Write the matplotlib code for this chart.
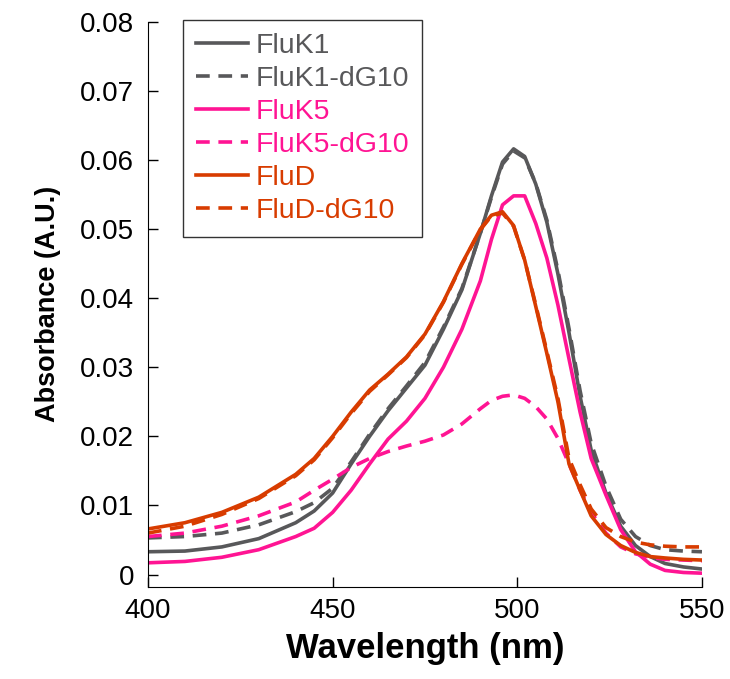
import numpy as np
import matplotlib
matplotlib.use('Agg')
import matplotlib.pyplot as plt

plt.rcParams['font.family'] = ['Liberation Sans', 'DejaVu Sans']

wavelength = [400, 410, 420, 430, 440, 445, 450, 455, 460, 465, 470, 475, 480, 485, 490, 493,
              496, 499, 502, 505, 508, 511, 514, 517, 520, 524, 528, 532, 536, 540, 545, 550]

fluk1 = [0.0033, 0.0034, 0.0040, 0.0052, 0.0075, 0.0092, 0.0118, 0.0160, 0.0200, 0.0237, 0.0270,
         0.0303, 0.0355, 0.0412, 0.0494, 0.0548, 0.0597, 0.0616, 0.0605, 0.0565, 0.0510, 0.0435,
         0.0350, 0.0258, 0.0180, 0.0118, 0.0070, 0.0042, 0.0026, 0.0016, 0.0011, 0.0008]
fluk1_dg10 = [0.0053, 0.0055, 0.0060, 0.0072, 0.0091, 0.0104, 0.0125, 0.0163, 0.0203, 0.0240, 0.0273,
              0.0307, 0.0358, 0.0414, 0.0494, 0.0546, 0.0594, 0.0613, 0.0603, 0.0566, 0.0513, 0.0440,
              0.0356, 0.0266, 0.0190, 0.0128, 0.0080, 0.0055, 0.0042, 0.0036, 0.0034, 0.0033]
fluk5 = [0.0017, 0.0019, 0.0025, 0.0036, 0.0055, 0.0067, 0.0090, 0.0122, 0.0160, 0.0196, 0.0222,
         0.0255, 0.0300, 0.0355, 0.0425, 0.0485, 0.0535, 0.0548, 0.0548, 0.0508, 0.0458, 0.0390,
         0.0312, 0.0235, 0.0168, 0.0115, 0.0065, 0.0033, 0.0015, 0.0006, 0.0003, 0.0002]
fluk5_dg10 = [0.0055, 0.0060, 0.0070, 0.0085, 0.0105, 0.0122, 0.0138, 0.0155, 0.0168, 0.0178, 0.0186,
              0.0193, 0.0202, 0.0218, 0.0240, 0.0252, 0.0258, 0.0260, 0.0255, 0.0243, 0.0225, 0.0197,
              0.0160, 0.0122, 0.0090, 0.0060, 0.0040, 0.0030, 0.0025, 0.0022, 0.0021, 0.0020]
flud = [0.0066, 0.0075, 0.0090, 0.0112, 0.0145, 0.0168, 0.0200, 0.0235, 0.0267, 0.0290, 0.0315,
        0.0348, 0.0395, 0.0450, 0.0500, 0.0520, 0.0525, 0.0505, 0.0455, 0.0388, 0.0320, 0.0250,
        0.0160, 0.0122, 0.0085, 0.0058, 0.0042, 0.0032, 0.0026, 0.0024, 0.0022, 0.0021]
flud_dg10 = [0.0060, 0.0070, 0.0087, 0.0110, 0.0143, 0.0166, 0.0198, 0.0233, 0.0265, 0.0289, 0.0314,
             0.0347, 0.0394, 0.0449, 0.0499, 0.0519, 0.0523, 0.0504, 0.0455, 0.0390, 0.0323, 0.0255,
             0.0168, 0.0130, 0.0095, 0.0068, 0.0055, 0.0047, 0.0043, 0.0041, 0.0040, 0.0040]

names = ['FluK1', 'FluK1-dG10', 'FluK5', 'FluK5-dG10', 'FluD', 'FluD-dG10']
colors = ['#58585a', '#58585a', '#ff1493', '#ff1493', '#d83c00', '#d83c00']
styles = ['-', '--', '-', '--', '-', '--']

xticks = [400, 450, 500, 550]
yticks = [0, 0.01, 0.02, 0.03, 0.04, 0.05, 0.06, 0.07, 0.08]
ytick_labels = ['0', '0.01', '0.02', '0.03', '0.04', '0.05', '0.06', '0.07', '0.08']

fig = plt.figure(figsize=(7.30, 6.79), dpi=100)
ax = fig.add_axes([0.2027, 0.1355, 0.7589, 0.8325])

series = [fluk1, fluk1_dg10, fluk5, fluk5_dg10, flud, flud_dg10]
for y, name, c, ls in zip(series, names, colors, styles):
    ax.plot(wavelength, y, color=c, linestyle=ls, linewidth=2.6, label=name,
            dashes=(3.8, 2.4) if ls == '--' else (None, None))

ax.set_xlim(400, 550)
ax.set_ylim(-0.0018, 0.08)
ax.set_xticks(xticks)
ax.set_yticks(yticks)
ax.set_yticklabels(ytick_labels)
ax.spines['top'].set_visible(False)
ax.spines['right'].set_visible(False)
ax.tick_params(direction='in', length=7, width=1, labelsize=20)
ax.tick_params(axis='y', pad=10)
ax.tick_params(axis='x', pad=8)

ax.set_xlabel('Wavelength (nm)', fontsize=25, fontweight='bold', labelpad=6)
ax.set_ylabel('Absorbance (A.U.)', fontsize=19.5, fontweight='bold', labelpad=14)

leg = ax.legend(loc='upper left', bbox_to_anchor=(0.063, 1.003), borderaxespad=0,
                fontsize=20.5, frameon=True, fancybox=False, edgecolor='black',
                handlelength=1.85, handletextpad=0.25, labelspacing=0.25, borderpad=0.45)
leg.get_frame().set_linewidth(1.0)
for text, c in zip(leg.get_texts(), colors):
    text.set_color(c)

fig.savefig('out.png', dpi=100)
